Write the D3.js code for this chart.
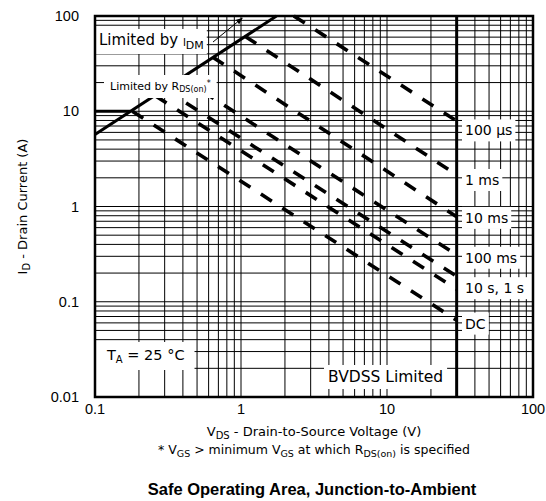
<!DOCTYPE html>
<html>
<head>
<meta charset="utf-8">
<script src="https://cdn.jsdelivr.net/npm/d3@7"></script>
<style>
  body { margin: 0; background: #fff; }
  text { fill: #000; }
</style>
</head>
<body>
<div id="grafica"></div>
<script>
// datos
const xTickVals = [0.1, 1, 10, 100];
const xTickLabels = ["0.1", "1", "10", "100"];
const yTickVals = [0.01, 0.1, 1, 10, 100];
const yTickLabels = ["0.01", "0.1", "1", "10", "100"];

const pulseNames  = ["100 µs", "1 ms", "10 ms", "100 ms", "1 s", "10 s", "DC"];
const pulseStartV = [2.3, 1.07, 0.64, 0.39, 0.30, 0.26, 0.18];
const pulseStartI = [100, 61, 37, 22.5, 17, 14.5, 10];
const pulseEndV   = [30, 30, 30, 30, 30, 30, 30];
const pulseEndI   = [7.9, 2.15, 0.78, 0.31, 0.185, 0.135, 0.064];

const rdsLine  = [[0.1, 5.7], [1.75, 100]];
const shelf10  = [[0.1, 10], [0.175, 10]];
const bvdssV   = 30;

const endLabels = ["100 µs", "1 ms", "10 ms", "100 ms", "10 s, 1 s", "DC"];
const endLabelI = [6.3, 1.9, 0.76, 0.29, 0.139, 0.059];

const width = 546, height = 501;
const mLeft = 95, mRight = 533, mTop = 16, mBottom = 397;

let svg = d3.select("#grafica").append("svg")
    .attr("width", width)
    .attr("height", height);

const x = d3.scaleLog().domain([0.1, 100]).range([mLeft, mRight]);
const y = d3.scaleLog().domain([0.01, 100]).range([mBottom, mTop]);

// rejilla
let gridX = [], gridY = [];
[0.1, 1, 10].forEach(d => { for (let k = 1; k <= 9; k++) gridX.push(d * k); });
[0.01, 0.1, 1, 10].forEach(d => { for (let k = 1; k <= 9; k++) gridY.push(d * k); });

svg.append("g").selectAll("line")
    .data(gridX)
    .join("line")
    .attr("x1", d => x(d)).attr("x2", d => x(d))
    .attr("y1", mTop).attr("y2", mBottom)
    .attr("stroke", "#000").attr("stroke-width", 1);

svg.append("g").selectAll("line")
    .data(gridY)
    .join("line")
    .attr("y1", d => y(d)).attr("y2", d => y(d))
    .attr("x1", mLeft).attr("x2", mRight)
    .attr("stroke", "#000").attr("stroke-width", 1);

// etiquetas con fondo blanco
function caja(g, pad) {
    let b = g.node().getBBox();
    g.insert("rect", ":first-child")
        .attr("x", b.x - pad[0]).attr("y", b.y - pad[1])
        .attr("width", b.width + pad[0] * 2).attr("height", b.height + pad[1] * 2)
        .attr("fill", "#fff");
}

const fontIn = "DejaVu Sans, Verdana, sans-serif";

// lineas de pulso
let linea = d3.line().x(d => x(d[0])).y(d => y(d[1]));

pulseNames.forEach((n, i) => {
    svg.append("path")
        .attr("d", linea([[pulseStartV[i], pulseStartI[i]], [pulseEndV[i], pulseEndI[i]]]))
        .attr("fill", "none")
        .attr("stroke", "#000")
        .attr("stroke-width", 3.6)
        .attr("stroke-dasharray", "13,12.5")
        .attr("class", "pulso");
});

svg.append("path").attr("d", linea(rdsLine))
    .attr("fill", "none").attr("stroke", "#000").attr("stroke-width", 3);
svg.append("path").attr("d", linea(shelf10))
    .attr("fill", "none").attr("stroke", "#000").attr("stroke-width", 3);

// etiquetas a la derecha
endLabels.forEach((t, i) => {
    let g = svg.append("g");
    g.append("text")
        .attr("x", 465).attr("y", y(endLabelI[i]))
        .attr("dy", "0.36em")
        .style("font-family", fontIn).style("font-size", "14px")
        .text(t);
    caja(g, [3, 3]);
});

// Limited by IDM
let gIdm = svg.append("g");
let tIdm = gIdm.append("text").attr("x", 99).attr("y", 45)
    .style("font-family", fontIn).style("font-size", "15px");
tIdm.append("tspan").text("Limited by ");
tIdm.append("tspan").style("font-size", "10px").attr("dy", 1).text("I");
tIdm.append("tspan").style("font-size", "11px").attr("dy", 3).text("DM");
caja(gIdm, [3, 2]);

svg.append("defs").append("marker")
    .attr("id", "flecha").attr("viewBox", "0 0 10 10")
    .attr("refX", 9).attr("refY", 5)
    .attr("markerWidth", 7).attr("markerHeight", 7)
    .attr("orient", "auto")
    .append("path").attr("d", "M0,1L10,5L0,9Z").attr("fill", "#000");

svg.append("line")
    .attr("x1", 213).attr("y1", 42).attr("x2", x(1.02)).attr("y2", y(95))
    .attr("stroke", "#000").attr("stroke-width", 1)
    .attr("marker-end", "url(#flecha)");

// Limited by RDS(on)*
let gRds = svg.append("g");
let tRds = gRds.append("text").attr("x", 110).attr("y", 90)
    .style("font-family", fontIn).style("font-size", "11px");
tRds.append("tspan").text("Limited by ");
tRds.append("tspan").text("R");
tRds.append("tspan").style("font-size", "8px").attr("dy", 2).text("DS(on)");
tRds.append("tspan").style("font-size", "8px").attr("dy", -6).text("*");
caja(gRds, [6, 4]);

// TA = 25 C
let gTa = svg.append("g");
let tTa = gTa.append("text").attr("x", 107).attr("y", 360)
    .style("font-family", fontIn).style("font-size", "14.5px");
tTa.append("tspan").text("T");
tTa.append("tspan").style("font-size", "10px").attr("dy", 3).text("A");
tTa.append("tspan").attr("dy", -3).text(" = 25 °C");
caja(gTa, [10, 5]);

// BVDSS Limited
let gBv = svg.append("g");
gBv.append("text").attr("x", 328).attr("y", 382)
    .style("font-family", fontIn).style("font-size", "15.5px")
    .text("BVDSS Limited");
caja(gBv, [4, 3]);

// linea BVDSS y marco
svg.append("line")
    .attr("x1", x(bvdssV)).attr("x2", x(bvdssV))
    .attr("y1", mTop).attr("y2", mBottom)
    .attr("stroke", "#000").attr("stroke-width", 3);

svg.append("rect")
    .attr("x", mLeft).attr("y", mTop)
    .attr("width", mRight - mLeft).attr("height", mBottom - mTop)
    .attr("fill", "none").attr("stroke", "#000").attr("stroke-width", 2.5);

// ejes
const fontTick = "Liberation Sans, Arial, sans-serif";
svg.append("g").selectAll("text")
    .data(yTickVals)
    .join("text")
    .attr("x", 79).attr("y", d => y(d)).attr("dy", "0.36em")
    .attr("text-anchor", "end")
    .style("font-family", fontTick).style("font-size", "14.5px")
    .text((d, i) => yTickLabels[i]);

svg.append("g").selectAll("text")
    .data(xTickVals)
    .join("text")
    .attr("x", d => x(d)).attr("y", 414)
    .attr("text-anchor", "middle")
    .style("font-family", fontTick).style("font-size", "14.5px")
    .text((d, i) => xTickLabels[i]);

// titulos
let tx = svg.append("text").attr("x", 314).attr("y", 436)
    .attr("text-anchor", "middle")
    .style("font-family", fontIn).style("font-size", "13px");
tx.append("tspan").text("V");
tx.append("tspan").style("font-size", "10px").attr("dy", 3).text("DS");
tx.append("tspan").attr("dy", -3).text(" - Drain-to-Source Voltage (V)");

let tf = svg.append("text").attr("x", 314).attr("y", 454)
    .attr("text-anchor", "middle")
    .style("font-family", fontIn).style("font-size", "12.5px");
tf.append("tspan").text("* V");
tf.append("tspan").style("font-size", "9.5px").attr("dy", 3).text("GS");
tf.append("tspan").attr("dy", -3).text(" > minimum V");
tf.append("tspan").style("font-size", "9.5px").attr("dy", 3).text("GS");
tf.append("tspan").attr("dy", -3).text(" at which R");
tf.append("tspan").style("font-size", "9.5px").attr("dy", 3).text("DS(on)");
tf.append("tspan").attr("dy", -3).text(" is specified");

let ty = svg.append("text")
    .attr("transform", "translate(27," + ((mTop + mBottom) / 2) + ") rotate(-90)")
    .attr("text-anchor", "middle")
    .style("font-family", fontIn).style("font-size", "13px");
ty.append("tspan").text("I");
ty.append("tspan").style("font-size", "10px").attr("dy", 3).text("D");
ty.append("tspan").attr("dy", -3).text(" - Drain Current (A)");

svg.append("text").attr("x", 312).attr("y", 495)
    .attr("text-anchor", "middle")
    .style("font-family", fontTick).style("font-size", "16.5px").style("font-weight", "bold")
    .text("Safe Operating Area, Junction-to-Ambient");
</script>
</body>
</html>
